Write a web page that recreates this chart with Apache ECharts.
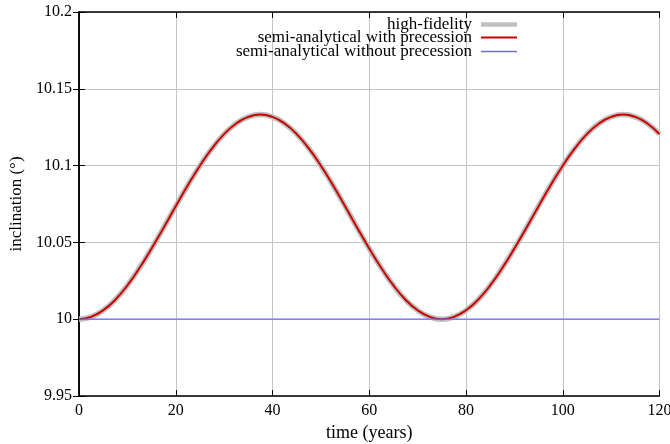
<!DOCTYPE html>
<html>
<head>
<meta charset="utf-8">
<script src="https://cdn.jsdelivr.net/npm/echarts@6/dist/echarts.min.js"></script>
<style>html,body{margin:0;padding:0;background:#fff;}#c{width:670px;height:444px;}</style>
</head>
<body>
<div id="c"></div>
<script>
const times = [0,2.5,5,7.5,10,12.5,15,17.5,20,22.5,25,27.5,30,32.5,35,37.5,40,42.5,45,47.5,50,52.5,55,57.5,60,62.5,65,67.5,70,72.5,75,77.5,80,82.5,85,87.5,90,92.5,95,97.5,100,102.5,105,107.5,110,112.5,115,117.5,120];
const highFidelity = [10.0000,10.0015,10.0058,10.0127,10.0220,10.0333,10.0460,10.0596,10.0736,10.0872,10.0999,10.1112,10.1205,10.1274,10.1317,10.1332,10.1317,10.1274,10.1205,10.1112,10.0999,10.0872,10.0736,10.0596,10.0460,10.0333,10.0220,10.0127,10.0058,10.0015,10.0000,10.0015,10.0058,10.0127,10.0220,10.0333,10.0460,10.0596,10.0736,10.0872,10.0999,10.1112,10.1205,10.1274,10.1317,10.1332,10.1317,10.1274,10.1205];
const withPrecession = [10.0000,10.0015,10.0058,10.0127,10.0220,10.0333,10.0460,10.0596,10.0736,10.0872,10.0999,10.1112,10.1205,10.1274,10.1317,10.1332,10.1317,10.1274,10.1205,10.1112,10.0999,10.0872,10.0736,10.0596,10.0460,10.0333,10.0220,10.0127,10.0058,10.0015,10.0000,10.0015,10.0058,10.0127,10.0220,10.0333,10.0460,10.0596,10.0736,10.0872,10.0999,10.1112,10.1205,10.1274,10.1317,10.1332,10.1317,10.1274,10.1205];
const withoutTimes = [0,120];
const withoutPrecession = [10.0,10.0];
const seriesNames = ['high-fidelity','semi-analytical with precession','semi-analytical without precession'];
const xTicks = [0,20,40,60,80,100,120];
const yTicks = ['9.95','10','10.05','10.1','10.15','10.2'];

const font = 'Liberation Serif';
const chart = echarts.init(document.getElementById('c'), null, {renderer:'canvas'});
const pair = (xs, ys) => xs.map((x,i)=>[x, ys[i]]);
const legendBase = {
  orient:'horizontal', align:'right', right:153, itemWidth:36, itemGap:0, icon:'rect',
  textStyle:{fontFamily:font, fontSize:17, color:'#000', padding:[0,4,0,0]},
  padding:0, selectedMode:false
};
chart.setOption({
  animation:false,
  backgroundColor:'#fff',
  grid:{left:79, right:10.5, top:12, bottom:48, containLabel:false, outerBoundsMode:'none'},
  legend:[
    Object.assign({}, legendBase, {top:16, itemHeight:4.5, data:[seriesNames[0]]}),
    Object.assign({}, legendBase, {top:29, itemHeight:2, data:[seriesNames[1]]}),
    Object.assign({}, legendBase, {top:43, itemHeight:1.3, data:[seriesNames[2]]})
  ],
  xAxis:[{
    type:'value', min:0, max:120, interval:20,
    name:'time (years)', nameLocation:'middle', nameGap:27,
    nameTextStyle:{fontFamily:font, fontSize:18, color:'#000'},
    axisLine:{show:true, lineStyle:{color:'#000', width:1.5}},
    axisTick:{show:true, inside:true, length:6, lineStyle:{color:'#000'}},
    axisLabel:{fontFamily:font, fontSize:16, color:'#000', margin:7},
    splitLine:{show:true, lineStyle:{color:'#c4c4c4', width:1}}
  },{
    type:'value', min:0, max:120, interval:20, position:'top',
    axisLine:{show:true, lineStyle:{color:'#000', width:1.5}},
    axisTick:{show:true, inside:true, length:6, lineStyle:{color:'#000'}},
    axisLabel:{show:false}, splitLine:{show:false}
  }],
  yAxis:[{
    type:'value', min:9.95, max:10.2, interval:0.05,
    name:'inclination (°)', nameLocation:'middle', nameGap:45, nameRotate:90,
    nameTextStyle:{fontFamily:font, fontSize:17, color:'#000'},
    axisLine:{show:true, lineStyle:{color:'#000', width:1.5}},
    axisTick:{show:true, inside:true, length:6, lineStyle:{color:'#000'}},
    axisLabel:{fontFamily:font, fontSize:16, color:'#000', margin:7,
      formatter:(v)=>{ const s = yTicks.find(t=>Math.abs(parseFloat(t)-v)<1e-6); return s!==undefined?s:''; }},
    splitLine:{show:true, lineStyle:{color:'#c4c4c4', width:1}}
  },{
    type:'value', min:9.95, max:10.2, interval:0.05, position:'right',
    axisLine:{show:true, lineStyle:{color:'#000', width:1.5}},
    axisTick:{show:true, inside:true, length:6, lineStyle:{color:'#000'}},
    axisLabel:{show:false}, splitLine:{show:false}
  }],
  series:[
    {name:seriesNames[0], type:'line', data:pair(times, highFidelity), smooth:true, symbol:'none',
     lineStyle:{color:'#c0c0c0', width:5.5}, itemStyle:{color:'#c0c0c0'}, z:2},
    {name:seriesNames[1], type:'line', data:pair(times, withPrecession), smooth:true, symbol:'none',
     lineStyle:{color:'#c80000', width:2}, itemStyle:{color:'#c80000'}, z:3},
    {name:seriesNames[2], type:'line', data:pair(withoutTimes, withoutPrecession), symbol:'none',
     lineStyle:{color:'#6a6aff', width:1.3}, itemStyle:{color:'#6a6aff'}, z:4}
  ]
});
</script>
</body>
</html>
